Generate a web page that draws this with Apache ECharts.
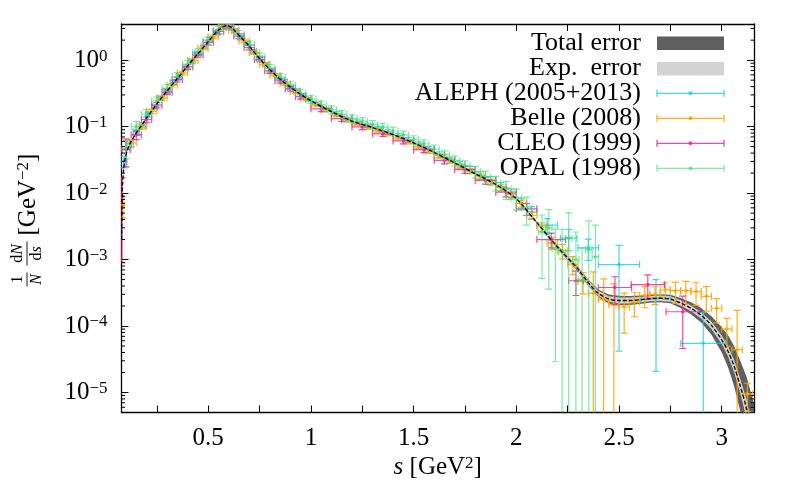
<!DOCTYPE html>
<html>
<head>
<meta charset="utf-8">
<title>tau spectral function</title>
<script src="https://cdn.jsdelivr.net/npm/echarts@6/dist/echarts.min.js"></script>
<style>
  html, body { margin: 0; padding: 0; background: #fff; }
  #chart { width: 798px; height: 492px; }
</style>
</head>
<body>
<div id="chart"></div>
<script>
// ---- values ----
// theory curve and its error bands (band half-widths are in decades)
const curveS = [0.0785,0.08,0.083,0.088,0.095,0.105,0.12,0.14,0.17,0.2,0.25,0.3,0.35,0.4,0.45,0.5,0.54,0.57,0.59,0.61,0.63,0.66,0.7,0.75,0.8,0.85,0.9,0.95,1.0,1.1,1.2,1.3,1.4,1.5,1.6,1.7,1.8,1.9,2.0,2.1,2.2,2.3,2.35,2.4,2.45,2.5,2.55,2.6,2.65,2.7,2.75,2.8,2.85,2.9,2.95,3.0,3.03,3.06,3.09,3.12,3.157];
const curveV = [0.002,0.006,0.013,0.022,0.032,0.043,0.056,0.072,0.098,0.135,0.22,0.345,0.53,0.82,1.25,1.9,2.65,3.15,3.3,3.15,2.75,2.2,1.62,1.06,0.72,0.52,0.395,0.305,0.245,0.168,0.121,0.097,0.076,0.057,0.041,0.0285,0.0195,0.0135,0.0082,0.0036,0.00155,0.00072,0.00045,0.00031,0.000255,0.000242,0.000242,0.000248,0.000258,0.000262,0.000255,0.000222,0.000185,0.000145,0.000102,0.000062,0.000042,0.000025,0.0000125,0.0000058,0.0000015];
const totalErrW = [0.03,0.03,0.025,0.02,0.02,0.012,0.012,0.012,0.012,0.012,0.012,0.012,0.012,0.012,0.012,0.012,0.012,0.012,0.012,0.012,0.012,0.012,0.012,0.012,0.012,0.012,0.012,0.012,0.012,0.012,0.012,0.012,0.012,0.012,0.012,0.012,0.012,0.012,0.012,0.018,0.026,0.038,0.048,0.058,0.068,0.072,0.068,0.064,0.06,0.06,0.064,0.074,0.09,0.11,0.14,0.19,0.24,0.3,0.38,0.48,0.65];
const expErrW = [0.02,0.02,0.015,0.012,0.01,0.008,0.008,0.008,0.008,0.008,0.008,0.008,0.008,0.008,0.008,0.008,0.008,0.008,0.008,0.008,0.008,0.008,0.008,0.008,0.008,0.008,0.008,0.008,0.008,0.008,0.008,0.008,0.008,0.008,0.008,0.008,0.008,0.008,0.008,0.012,0.018,0.026,0.032,0.038,0.042,0.044,0.044,0.042,0.04,0.04,0.04,0.04,0.043,0.047,0.054,0.064,0.075,0.09,0.11,0.14,0.2];

// ALEPH (2005+2013): bin centre, half width, value, error in percent
const alephS = [0.09,0.12,0.15,0.18,0.21,0.24,0.27,0.30,0.33,0.36,0.39,0.42,0.45,0.48,0.51,0.54,0.57,0.60,0.63,0.66,0.69,0.72,0.75,0.78,0.81,0.84,0.87,0.90,0.93,0.96,0.99,1.025,1.075,1.125,1.175,1.225,1.275,1.325,1.375,1.425,1.475,1.525,1.575,1.625,1.675,1.725,1.775,1.825,1.875,1.925,1.975,2.025,2.075,2.15,2.255,2.35,2.5,2.68,2.91];
const alephHW = [0.015,0.015,0.015,0.015,0.015,0.015,0.015,0.015,0.015,0.015,0.015,0.015,0.015,0.015,0.015,0.015,0.015,0.015,0.015,0.015,0.015,0.015,0.015,0.015,0.015,0.015,0.015,0.015,0.015,0.015,0.015,0.025,0.025,0.025,0.025,0.025,0.025,0.025,0.025,0.025,0.025,0.025,0.025,0.025,0.025,0.025,0.025,0.025,0.025,0.025,0.025,0.025,0.025,0.05,0.04,0.05,0.1,0.073,0.11];
const alephV = [0.03,0.055,0.083,0.105,0.152,0.196,0.27,0.34,0.46,0.57,0.76,0.96,1.27,1.58,2.08,2.62,3.18,3.22,2.78,2.18,1.77,1.36,1.08,0.87,0.69,0.55,0.475,0.39,0.345,0.29,0.258,0.225,0.18,0.157,0.128,0.117,0.104,0.094,0.083,0.073,0.063,0.054,0.046,0.038,0.0315,0.027,0.0225,0.0185,0.0155,0.0125,0.0098,0.007,0.0052,0.0033,0.0021,0.0015,0.00084,0.00026,0.000055];
const alephErr = [20,12,10,9,8,8,7,7,7,7,7,7,6,6,6,6,6,6,6,6,6,6,6,6,6,6,7,7,7,7,7,7,7,7,8,8,8,8,8,8,9,9,9,10,10,11,12,13,14,15,17,20,20,25,35,35,95,92,190];

// Belle (2008)
const belleS = [0.085,0.125,0.175,0.225,0.275,0.325,0.375,0.425,0.475,0.525,0.575,0.625,0.675,0.725,0.775,0.825,0.875,0.925,0.975,1.025,1.075,1.125,1.175,1.225,1.275,1.325,1.375,1.425,1.475,1.525,1.575,1.625,1.675,1.725,1.775,1.825,1.875,1.925,1.975,2.025,2.075,2.125,2.175,2.225,2.275,2.325,2.375,2.425,2.475,2.525,2.575,2.625,2.675,2.725,2.775,2.825,2.875,2.925,2.975,3.025,3.075,3.125];
const belleHW = [0.007,0.025,0.025,0.025,0.025,0.025,0.025,0.025,0.025,0.025,0.025,0.025,0.025,0.025,0.025,0.025,0.025,0.025,0.025,0.025,0.025,0.025,0.025,0.025,0.025,0.025,0.025,0.025,0.025,0.025,0.025,0.025,0.025,0.025,0.025,0.025,0.025,0.025,0.025,0.025,0.025,0.025,0.025,0.025,0.025,0.025,0.025,0.025,0.025,0.025,0.025,0.025,0.025,0.025,0.025,0.025,0.025,0.025,0.025,0.025,0.025,0.025];
const belleV = [0.0065,0.057,0.1,0.17,0.27,0.42,0.645,0.99,1.52,2.25,3.15,2.8,1.95,1.3,0.865,0.6,0.44,0.335,0.265,0.216,0.178,0.15,0.126,0.111,0.098,0.088,0.078,0.068,0.059,0.051,0.043,0.0365,0.0305,0.0258,0.0215,0.0178,0.0147,0.0121,0.0096,0.007,0.0046,0.0031,0.00178,0.00135,0.00085,0.00047,0.00031,0.00025,0.00021,0.000195,0.00023,0.00029,0.0003,0.00035,0.00034,0.00034,0.00033,0.00028,0.000185,0.00009,0.000044,0.0000095];
const belleErr = [35,12,9,8,7,6,6,6,6,6,6,6,6,6,6,6,6,6,6,6,6,6,6,6,7,7,7,7,7,8,8,8,8,9,9,9,10,10,11,12,13,15,20,25,30,35,110,105,105,60,40,35,30,28,35,38,38,40,40,45,290,45,45];

// CLEO (1999)
const cleoS = [0.08,0.1,0.15,0.2,0.25,0.3,0.35,0.4,0.45,0.5,0.55,0.6,0.65,0.7,0.75,0.8,0.85,0.9,0.95,1.05,1.15,1.25,1.35,1.45,1.55,1.65,1.75,1.85,1.95,2.05,2.17,2.29,2.48,2.64,2.81];
const cleoHW = [0.004,0.02,0.025,0.025,0.025,0.025,0.025,0.025,0.025,0.025,0.025,0.025,0.025,0.025,0.025,0.025,0.025,0.025,0.025,0.05,0.05,0.05,0.05,0.05,0.05,0.05,0.05,0.05,0.05,0.05,0.07,0.035,0.081,0.081,0.081];
const cleoV = [0.009,0.045,0.075,0.128,0.21,0.33,0.51,0.79,1.2,1.85,2.7,3.2,2.3,1.55,1.02,0.69,0.49,0.37,0.285,0.185,0.132,0.099,0.078,0.061,0.045,0.031,0.0225,0.0155,0.0103,0.0058,0.002,0.00048,0.00038,0.00042,0.000164];
const cleoErr = [90,45,15,10,9,8,8,8,8,8,8,8,8,8,8,8,8,8,9,9,9,9,9,10,10,11,12,13,15,20,25,40,45,40,72];

// OPAL (1998)
const opalS = [0.1,0.15,0.2,0.25,0.3,0.35,0.4,0.45,0.5,0.55,0.6,0.65,0.7,0.75,0.8,0.85,0.9,0.95,1.0,1.05,1.1,1.15,1.2,1.25,1.3,1.35,1.4,1.45,1.5,1.55,1.6,1.65,1.7,1.75,1.8,1.85,1.9,1.95,2.0,2.05,2.125,2.158,2.19,2.223,2.255,2.29,2.32,2.353,2.385];
const opalHW = [0.025,0.025,0.025,0.025,0.025,0.025,0.025,0.025,0.025,0.025,0.025,0.025,0.025,0.025,0.025,0.025,0.025,0.025,0.025,0.025,0.025,0.025,0.025,0.025,0.025,0.025,0.025,0.025,0.025,0.025,0.025,0.025,0.025,0.025,0.025,0.025,0.025,0.025,0.025,0.025,0.016,0.016,0.016,0.016,0.016,0.016,0.016,0.016,0.016];
const opalV = [0.047,0.1,0.155,0.245,0.375,0.57,0.87,1.3,1.95,2.8,3.3,2.45,1.7,1.12,0.76,0.55,0.415,0.32,0.26,0.213,0.18,0.153,0.132,0.12,0.108,0.098,0.086,0.075,0.064,0.055,0.046,0.038,0.031,0.026,0.021,0.0175,0.0143,0.0115,0.0085,0.006,0.0026,0.003,0.00145,0.0013,0.0021,0.001,0.0005,0.00141,0.0011];
const opalErr = [30,20,16,15,15,14,14,14,14,14,14,14,14,14,14,14,14,14,14,14,14,14,14,14,14,14,14,14,14,15,15,16,17,18,20,22,25,30,35,45,80,88,98,120,140,160,200,170,200];

// axes
const xMin = 0.078, xMax = 3.157;
const yMin = 5e-6, yMax = 3.5;
const xTickLabels = [0.5, 1, 1.5, 2, 2.5, 3];
const yTickExps = [0, -1, -2, -3, -4, -5];

const FONT = 'Liberation Serif';
const colAleph = 'rgba(20,205,240,0.8)';
const colBelle = 'rgba(255,165,0,0.9)';
const colCleo = 'rgba(238,40,156,0.85)';
const colOpal = 'rgba(60,222,120,0.65)';

const chart = echarts.init(document.getElementById('chart'));

function makeRows(S, HW, V, E) {
  return S.map(function (s, i) {
    const e = V[i] * E[i] / 100;
    const lo = V[i] - e > 0 ? V[i] - e : 1e-9;
    return [s, V[i], HW[i], lo, V[i] + e];
  });
}

function errItem(color) {
  return function (params, api) {
    const s = api.value(0), v = api.value(1), hw = api.value(2);
    const c = api.coord([s, v]);
    const xl = api.coord([s - hw, v])[0];
    const xr = api.coord([s + hw, v])[0];
    const yt = api.coord([s, api.value(4)])[1];
    const yb = api.coord([s, api.value(3)])[1];
    const cap = 3.5;
    function seg(x1, y1, x2, y2) {
      return { type: 'line', shape: { x1: x1, y1: y1, x2: x2, y2: y2 }, style: { stroke: color, lineWidth: 1.2 } };
    }
    return {
      type: 'group',
      children: [
        seg(xl, c[1], xr, c[1]),
        seg(xl, c[1] - cap, xl, c[1] + cap),
        seg(xr, c[1] - cap, xr, c[1] + cap),
        seg(c[0], yt, c[0], yb),
        seg(c[0] - cap, yt, c[0] + cap, yt),
        seg(c[0] - cap, yb, c[0] + cap, yb),
        { type: 'circle', shape: { cx: c[0], cy: c[1], r: 1.8 }, style: { fill: color } }
      ]
    };
  };
}

function bandItem(widths, color) {
  return function (params, api) {
    const up = [], dn = [];
    for (let i = 0; i < curveS.length; i++) {
      up.push(api.coord([curveS[i], curveV[i] * Math.pow(10, widths[i])]));
      dn.push(api.coord([curveS[i], curveV[i] / Math.pow(10, widths[i])]));
    }
    return { type: 'polygon', shape: { points: up.concat(dn.reverse()) }, style: { fill: color } };
  };
}

// minor ticks of the log axis: 2..9 times each power of ten
const yMinor = [];
for (let k = -6; k <= 0; k++) {
  for (let m = 2; m <= 9; m++) {
    const v = m * Math.pow(10, k);
    if (v > yMin && v < yMax) yMinor.push([xMin, v]);
  }
}

function minorTickItem(params, api) {
  const p = api.coord([xMin, api.value(1)]);
  const cs = params.coordSys;
  return {
    type: 'group',
    children: [
      { type: 'line', shape: { x1: cs.x, y1: p[1], x2: cs.x + 3.5, y2: p[1] }, style: { stroke: '#000', lineWidth: 1 } },
      { type: 'line', shape: { x1: cs.x + cs.width, y1: p[1], x2: cs.x + cs.width - 3.5, y2: p[1] }, style: { stroke: '#000', lineWidth: 1 } }
    ]
  };
}

const axisLineStyle = { lineStyle: { color: '#000', width: 1.3 } };
const tickStyle = { show: true, inside: true, length: 7, lineStyle: { color: '#000', width: 1 } };

function xAxisLabel(v) {
  for (let i = 0; i < xTickLabels.length; i++) {
    if (Math.abs(v - xTickLabels[i]) < 1e-6) return String(xTickLabels[i]);
  }
  return '';
}
function yAxisLabel(v) {
  const l = Math.log10(v);
  const n = Math.round(l);
  if (Math.abs(l - n) > 1e-6 || yTickExps.indexOf(n) < 0) return '';
  return '{b|10}{e|' + (n < 0 ? '\u2212' + (-n) : n) + '}';
}

const option = {
  animation: false,
  backgroundColor: '#fff',
  grid: { left: 121.5, right: 44, top: 24, bottom: 79.5 },
  xAxis: [
    {
      type: 'value', min: xMin, max: xMax, position: 'bottom',
      axisLine: axisLineStyle, axisTick: tickStyle,
      minorTick: { show: true, splitNumber: 2, length: 7, lineStyle: { color: '#000', width: 1 } },
      splitLine: { show: false },
      axisLabel: { formatter: xAxisLabel, margin: 13, color: '#000', fontFamily: FONT, fontSize: 25 },
      name: '{i|s} [GeV{e|2}]', nameLocation: 'middle', nameGap: 42,
      nameTextStyle: {
        color: '#000', fontFamily: FONT, fontSize: 25,
        rich: { i: { fontFamily: FONT, fontSize: 25, fontStyle: 'italic', color: '#000' },
                e: { fontFamily: FONT, fontSize: 17, color: '#000', verticalAlign: 'top' } }
      }
    },
    {
      type: 'value', min: xMin, max: xMax, position: 'top',
      axisLine: axisLineStyle, axisTick: tickStyle,
      minorTick: { show: true, splitNumber: 2, length: 7, lineStyle: { color: '#000', width: 1 } },
      splitLine: { show: false }, axisLabel: { show: false }
    }
  ],
  yAxis: [
    {
      type: 'log', logBase: 10, min: yMin, max: yMax, position: 'left',
      axisLine: axisLineStyle, axisTick: tickStyle, splitLine: { show: false },
      axisLabel: {
        formatter: yAxisLabel, margin: 14, color: '#000',
        rich: { b: { fontFamily: FONT, fontSize: 25, color: '#000' },
                e: { fontFamily: FONT, fontSize: 17, color: '#000', verticalAlign: 'top', padding: [0, 0, 6, 0] } }
      }
    },
    {
      type: 'log', logBase: 10, min: yMin, max: yMax, position: 'right',
      axisLine: axisLineStyle, axisTick: tickStyle, splitLine: { show: false },
      axisLabel: { show: false }
    }
  ],
  series: [
    { name: 'Total error', type: 'custom', clip: true, z: 1, silent: true,
      renderItem: bandItem(totalErrW, '#5f5f5f'), data: [[curveS[0], curveV[0]]] },
    { name: 'Exp. error', type: 'custom', clip: true, z: 2, silent: true,
      renderItem: bandItem(expErrW, '#d3d3d3'), data: [[curveS[0], curveV[0]]] },
    { name: 'ALEPH (2005+2013)', type: 'custom', clip: true, z: 3, silent: true,
      renderItem: errItem(colAleph), encode: { x: 0, y: 1 }, data: makeRows(alephS, alephHW, alephV, alephErr) },
    { name: 'Belle (2008)', type: 'custom', clip: true, z: 3, silent: true,
      renderItem: errItem(colBelle), encode: { x: 0, y: 1 }, data: makeRows(belleS, belleHW, belleV, belleErr) },
    { name: 'CLEO (1999)', type: 'custom', clip: true, z: 3, silent: true,
      renderItem: errItem(colCleo), encode: { x: 0, y: 1 }, data: makeRows(cleoS, cleoHW, cleoV, cleoErr) },
    { name: 'OPAL (1998)', type: 'custom', clip: true, z: 3, silent: true,
      renderItem: errItem(colOpal), encode: { x: 0, y: 1 }, data: makeRows(opalS, opalHW, opalV, opalErr) },
    { name: 'theory', type: 'line', z: 4, silent: true, showSymbol: false, smooth: 0.3,
      data: curveS.map(function (s, i) { return [s, curveV[i]]; }),
      lineStyle: { color: '#000', width: 1.3, type: [4, 2] } },
    { name: 'minor', type: 'custom', z: 5, silent: true, clip: false,
      renderItem: minorTickItem, encode: { x: 0, y: 1 }, data: yMinor }
  ],
  graphic: [
    // y axis title, rotated
    {
      type: 'group', x: 28, y: 218.5, rotation: Math.PI / 2,
      children: [
        { type: 'text', x: -61, y: -10, style: { text: '1', font: '16px "' + FONT + '"', fill: '#000', align: 'center', verticalAlign: 'middle' } },
        { type: 'line', shape: { x1: -68, y1: -1, x2: -54, y2: -1 }, style: { stroke: '#000', lineWidth: 0.9 } },
        { type: 'text', x: -61, y: 9, style: { text: 'N', font: 'italic 16px "' + FONT + '"', fill: '#000', align: 'center', verticalAlign: 'middle' } },
        { type: 'text', x: -35, y: -10, style: { text: 'd{i|N}', font: '16px "' + FONT + '"', fill: '#000', align: 'center', verticalAlign: 'middle',
            rich: { i: { fontStyle: 'italic', fontSize: 16, fontFamily: FONT } } } },
        { type: 'line', shape: { x1: -47, y1: -1, x2: -23, y2: -1 }, style: { stroke: '#000', lineWidth: 0.9 } },
        { type: 'text', x: -35, y: 9, style: { text: 'd{i|s}', font: '16px "' + FONT + '"', fill: '#000', align: 'center', verticalAlign: 'middle',
            rich: { i: { fontStyle: 'italic', fontSize: 16, fontFamily: FONT } } } },
        { type: 'text', x: -17, y: 0, style: { text: '[GeV{e|\u22122}]', font: '25px "' + FONT + '"', fill: '#000', align: 'left', verticalAlign: 'middle',
            rich: { e: { fontSize: 17, fontFamily: FONT, verticalAlign: 'top' } } } }
      ]
    },
    // legend
    { type: 'text', x: 641, y: 43, style: { text: 'Total error', font: '26px "' + FONT + '"', fill: '#000', align: 'right', verticalAlign: 'middle' } },
    { type: 'rect', shape: { x: 657, y: 36.5, width: 67, height: 13.5 }, style: { fill: '#5f5f5f' } },
    { type: 'text', x: 641, y: 68.3, style: { text: 'Exp.  error', font: '26px "' + FONT + '"', fill: '#000', align: 'right', verticalAlign: 'middle' } },
    { type: 'rect', shape: { x: 657, y: 62, width: 67, height: 13.5 }, style: { fill: '#d3d3d3' } },
    { type: 'text', x: 641, y: 93.3, style: { text: 'ALEPH (2005+2013)', font: '26px "' + FONT + '"', fill: '#000', align: 'right', verticalAlign: 'middle' } },
    { type: 'text', x: 641, y: 118.3, style: { text: 'Belle (2008)', font: '26px "' + FONT + '"', fill: '#000', align: 'right', verticalAlign: 'middle' } },
    { type: 'text', x: 641, y: 143.3, style: { text: 'CLEO (1999)', font: '26px "' + FONT + '"', fill: '#000', align: 'right', verticalAlign: 'middle' } },
    { type: 'text', x: 641, y: 168.3, style: { text: 'OPAL (1998)', font: '26px "' + FONT + '"', fill: '#000', align: 'right', verticalAlign: 'middle' } }
  ]
};

// legend samples for the data sets: a horizontal error bar with a dot
[[93.3, colAleph], [118.3, colBelle], [143.3, colCleo], [168.3, colOpal]].forEach(function (row) {
  const y = row[0], c = row[1];
  option.graphic.push(
    { type: 'line', shape: { x1: 657, y1: y, x2: 724, y2: y }, style: { stroke: c, lineWidth: 1.3 } },
    { type: 'line', shape: { x1: 657, y1: y - 3.5, x2: 657, y2: y + 3.5 }, style: { stroke: c, lineWidth: 1.3 } },
    { type: 'line', shape: { x1: 724, y1: y - 3.5, x2: 724, y2: y + 3.5 }, style: { stroke: c, lineWidth: 1.3 } },
    { type: 'circle', shape: { cx: 690.5, cy: y, r: 2 }, style: { fill: c } }
  );
});

chart.setOption(option);
window.addEventListener('resize', function () { chart.resize(); });
</script>
</body>
</html>
